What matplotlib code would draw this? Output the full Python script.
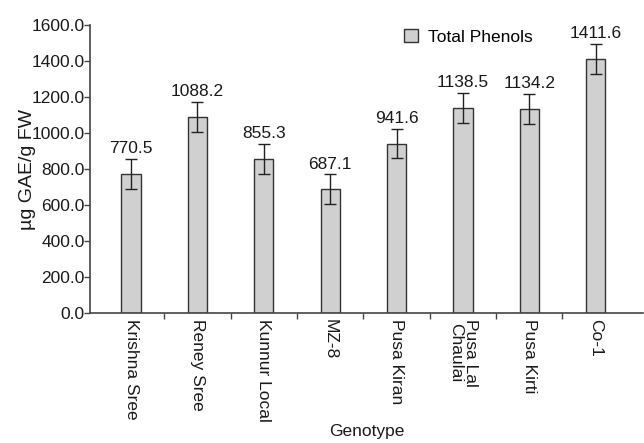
import matplotlib
matplotlib.use("Agg")
import matplotlib.pyplot as plt
import numpy as np

genotypes = ["Krishna Sree", "Reney Sree", "Kunnur Local", "MZ-8", "Pusa Kiran",
             "Pusa Lal\nChaulai", "Pusa Kirti", "Co-1"]
phenols = [770.5, 1088.2, 855.3, 687.1, 941.6, 1138.5, 1134.2, 1411.6]
errors = [83, 83, 83, 83, 83, 83, 83, 83]
yticks = [0, 200, 400, 600, 800, 1000, 1200, 1400, 1600]

plt.rcParams['font.family'] = ['Liberation Sans', 'DejaVu Sans']
TXT = "#1a1a1a"
fig = plt.figure(figsize=(6.44, 4.43), dpi=100)
ax = fig.add_axes([0.14, 0.2935, 0.858, 0.65])

x = np.arange(len(genotypes))
ax.bar(x, phenols, width=0.29, color="#d0d0d0", edgecolor="#333333", linewidth=1.0,
       label="Total Phenols", zorder=2)
ax.errorbar(x, phenols, yerr=errors, fmt="none", ecolor="#222222", elinewidth=1.0,
            capsize=4, capthick=1.0, zorder=3)
for xi, v, e in zip(x, phenols, errors):
    ax.text(xi, v + e + 16, f"{v:.1f}", ha="center", va="bottom", fontsize=12.5, color=TXT)

ax.set_xlim(-0.617, 7.71)
ax.set_ylim(0, 1600)
ax.set_yticks(yticks)
ax.set_yticklabels([f"{t:.1f}" for t in yticks], fontsize=12.5, color=TXT)
ax.tick_params(axis="y", length=4, pad=0, width=1, color="#444444")

ax.set_xticks(x)
ax.set_xticklabels(genotypes, rotation=-90, fontsize=12.5, va="top", ha="center",
                   color=TXT, linespacing=0.95)
ax.tick_params(axis="x", length=0, pad=4)
ax.set_xticks(x[:-1] + 0.5, minor=True)
ax.tick_params(axis="x", which="minor", length=4, width=1, color="#444444")

for s in ["top", "right"]:
    ax.spines[s].set_visible(False)
for s in ["left", "bottom"]:
    ax.spines[s].set_color("#444444")
    ax.spines[s].set_linewidth(1.2)

ax.set_ylabel("µg GAE/g FW", fontsize=14, color=TXT)
ax.yaxis.set_label_coords(-0.098, 0.5)
ax.set_xlabel("Genotype", fontsize=12.5, color=TXT, labelpad=2)

ax.legend(loc="upper left", bbox_to_anchor=(0.54, 1.04), frameon=False, fontsize=12.5,
          handlelength=0.8, handleheight=0.8, handletextpad=0.6)

fig.savefig("out.png", dpi=100)
